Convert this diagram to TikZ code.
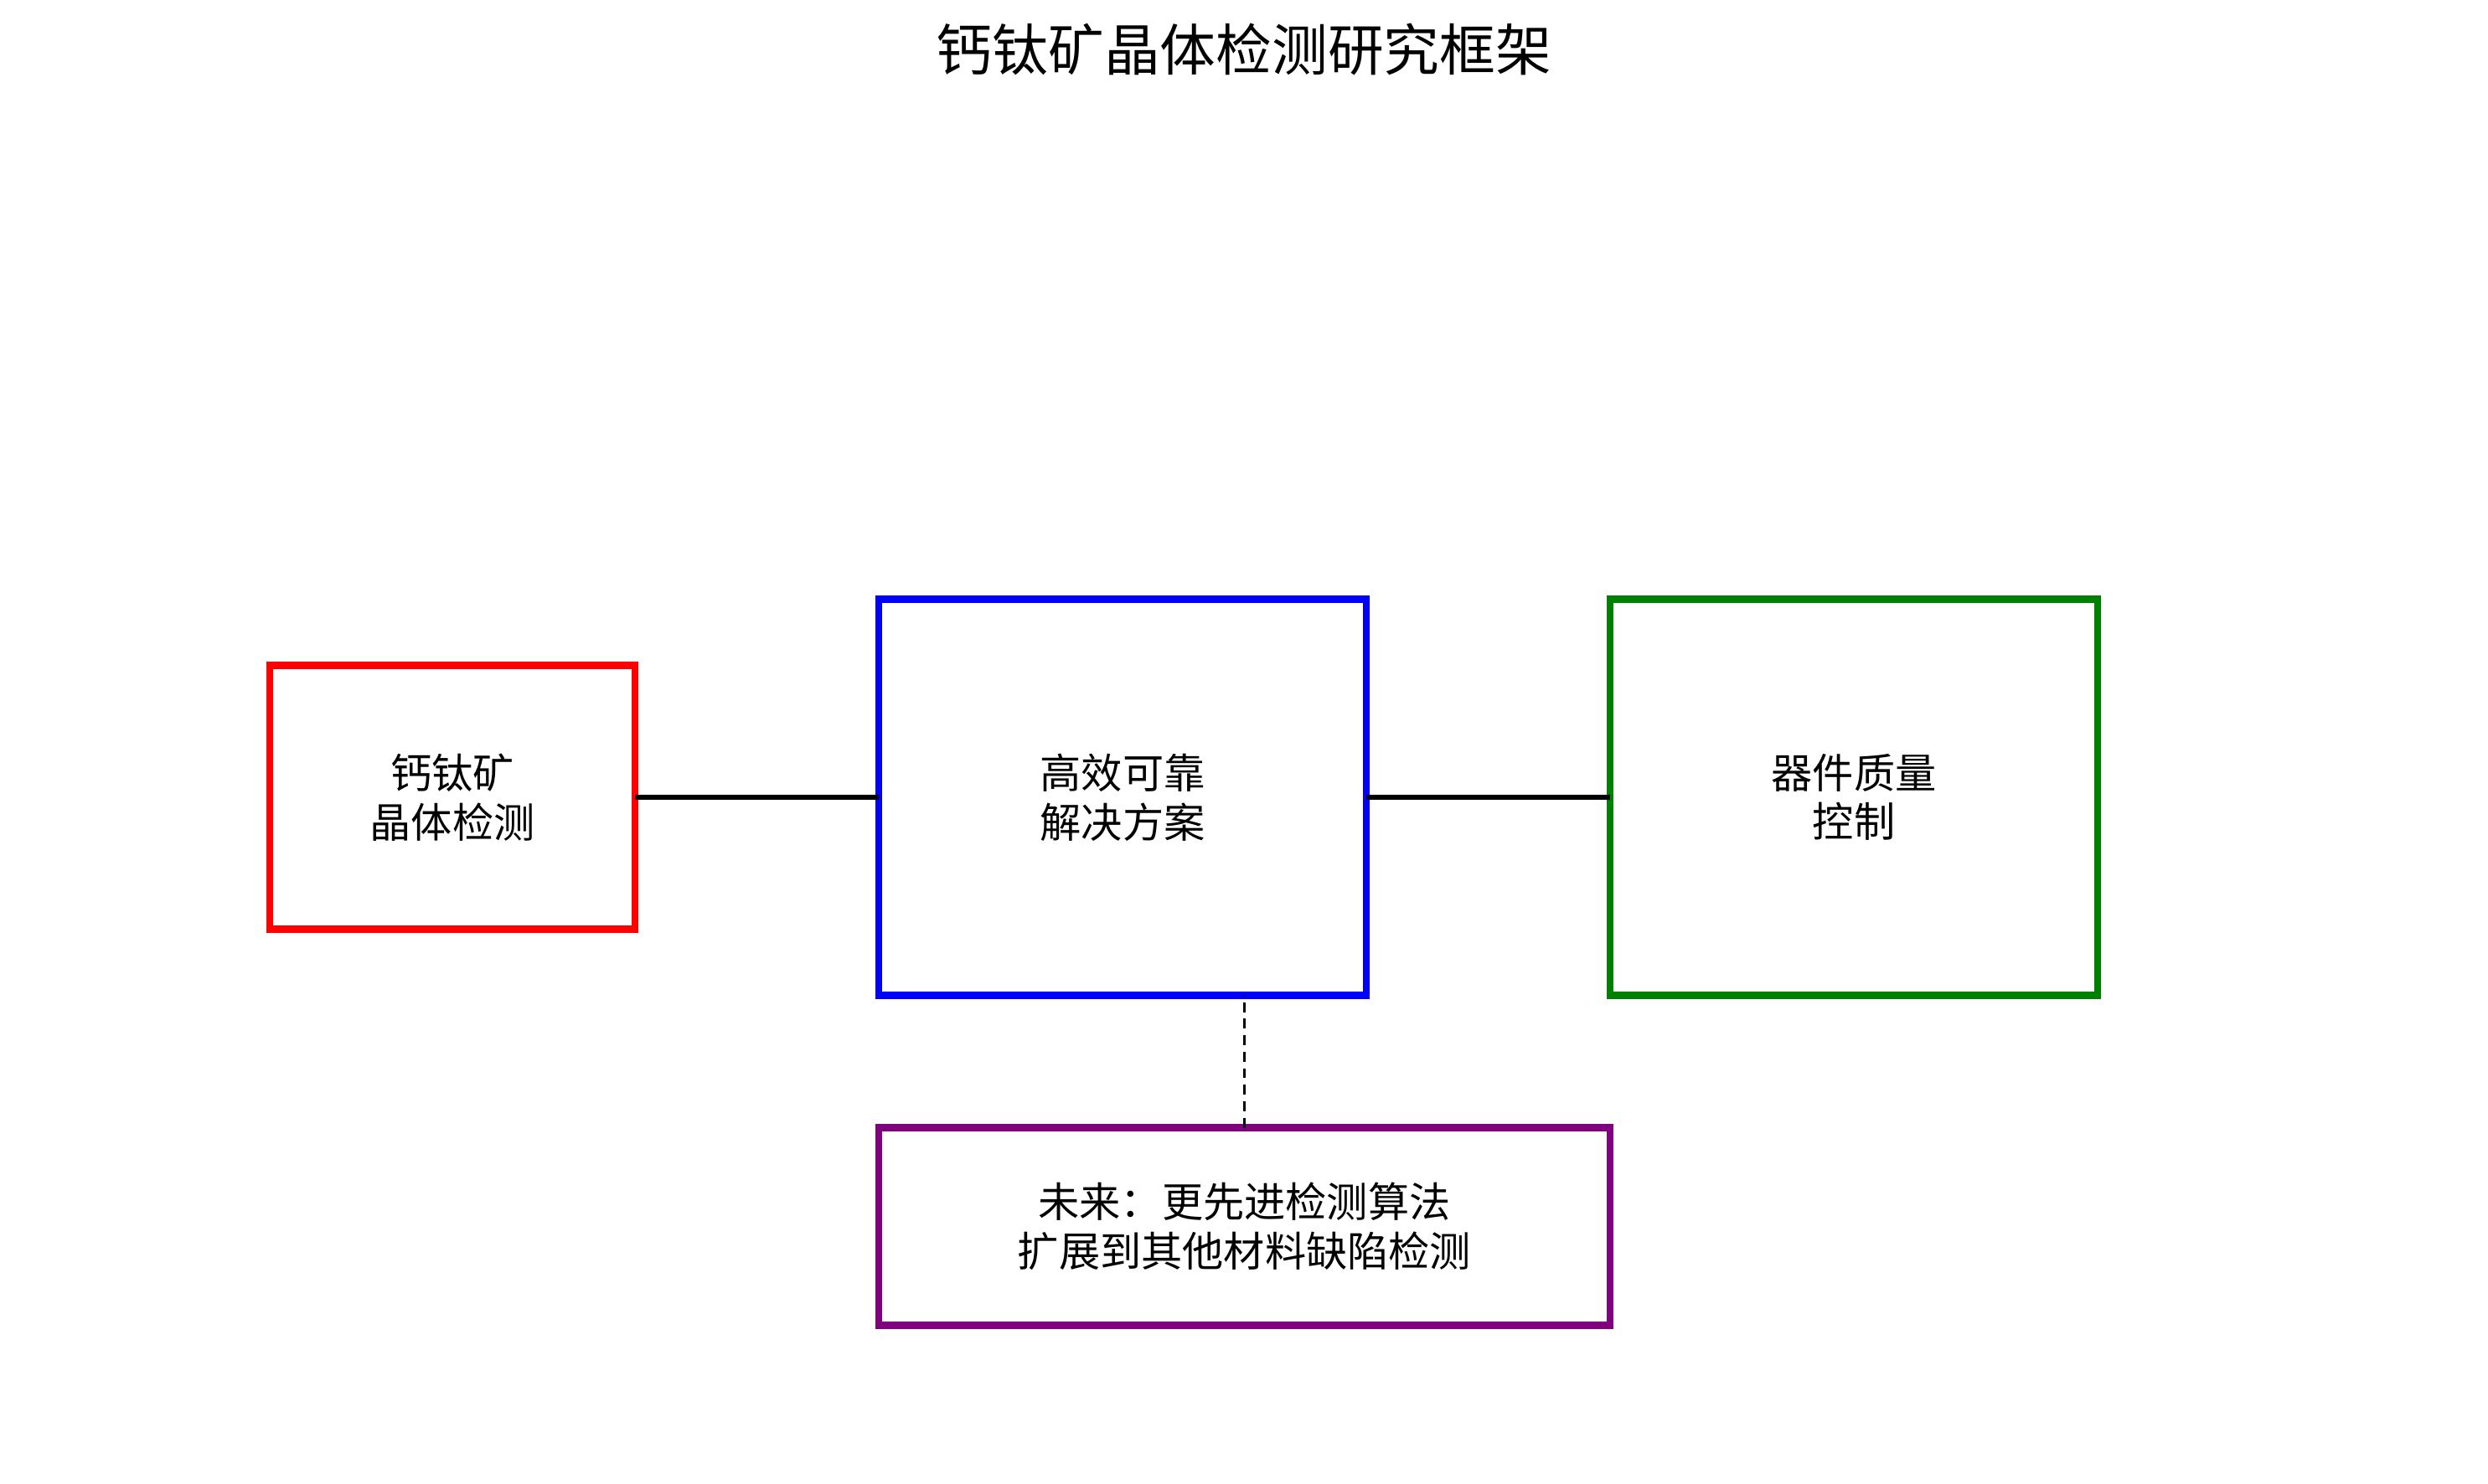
\documentclass[tikz,border=0pt]{standalone}
\usepackage{fontspec}
\setmainfont{Noto Sans CJK SC}
\usepackage{tikz}
\usetikzlibrary{positioning}
\definecolor{BoxRed}{RGB}{255,0,0}
\definecolor{BoxBlue}{RGB}{0,0,255}
\definecolor{BoxGreen}{RGB}{0,128,0}
\definecolor{BoxPurple}{RGB}{128,0,128}

\begin{document}
\begin{tikzpicture}[
  box/.style={draw, line width=2.4pt, outer sep=0pt,
              minimum width=4.36cm, minimum height=3.15cm,
              align=center, font=\fontsize{14}{16.7}\selectfont},
  bigbox/.style={box, minimum width=5.82cm, minimum height=4.73cm},
  link/.style={black, line width=1.6pt},
  title/.style={font=\fontsize{19}{22}\selectfont},
]
\useasboundingbox (0,0) rectangle (29.7,17.71);

\node[title] (head) at (14.85,17.12) {钙钛矿晶体检测研究框架};

\node[box, draw=BoxRed] (crystal) at (5.40,8.19) {钙钛矿\\晶体检测};
\node[bigbox, draw=BoxBlue, right=2.91cm of crystal] (solution) {高效可靠\\解决方案};
\node[bigbox, draw=BoxGreen, right=2.91cm of solution] (quality) {器件质量\\控制};

\node[box, draw=BoxPurple, minimum width=8.73cm, minimum height=2.36cm,
      below=1.58cm of solution.south west, anchor=north west]
  (future) {未来：更先进检测算法\\扩展到其他材料缺陷检测};

\draw[link] (crystal) -- (solution);
\draw[link] (solution) -- (quality);
\draw[link, line width=1pt, dash pattern=on 3.4pt off 2.2pt]
  (future.north) -- (future.north |- solution.south);
\end{tikzpicture}
\end{document}
